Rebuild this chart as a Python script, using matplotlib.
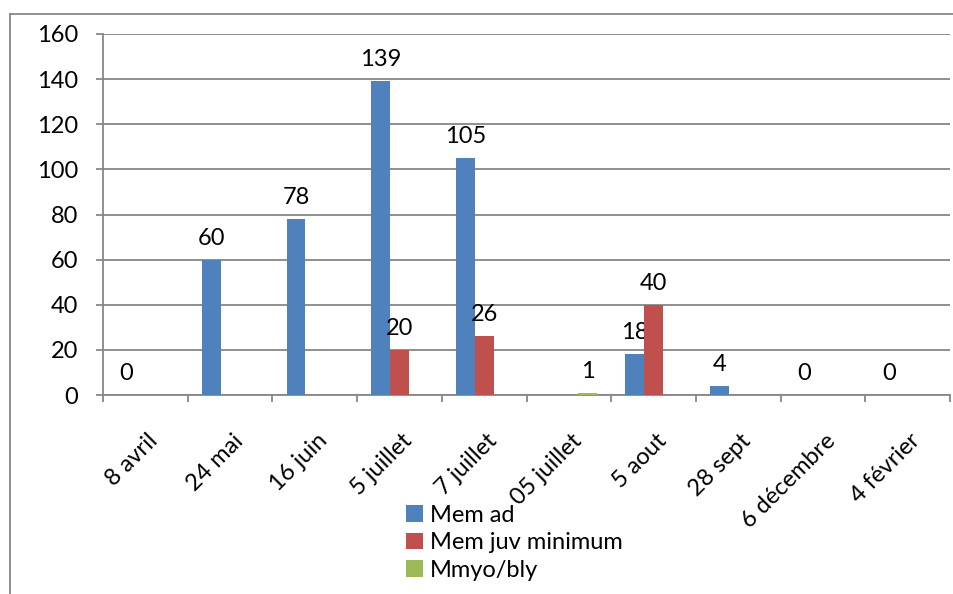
import numpy as np
import matplotlib
matplotlib.use("Agg")
from matplotlib import pyplot as plt
from matplotlib.lines import Line2D
from matplotlib.transforms import ScaledTranslation

plt.rcParams['font.family'] = ['Lato', 'DejaVu Sans']

# Data ====================================================================
dates = ["8 avril", "24 mai", "16 juin", "5 juillet", "7 juillet",
         "05 juillet", "5 aout", "28 sept", "6 décembre", "4 février"]
mem_ad  = [0, 60, 78, 139, 105, None, 18, 4, 0, 0]
mem_juv = [None, None, None, 20, 26, None, 40, None, None, None]
mmyo    = [None, None, None, None, None, 1, None, None, None, None]

series = [("Mem ad", mem_ad, "#4F81BD"),
          ("Mem juv minimum", mem_juv, "#C0504D"),
          ("Mmyo/bly", mmyo, "#9BBB59")]

# Figure ==================================================================
W, H = 954, 594
fig = plt.figure(figsize=(W/100, H/100), dpi=100)
ax = fig.add_axes([103/W, 1-395/H, (950-103)/W, (395-34)/H])

grey = "#878787"
fs = 17

x = np.arange(len(dates))
w = 0.222
for k, (name, vals, col) in enumerate(series):
    v = np.array([np.nan if a is None else a for a in vals], dtype=float)
    pos = x + (k-1)*w
    ax.bar(pos, v, width=w, color=col, label=name, zorder=3)
    for px, val in zip(pos, v):
        if not np.isnan(val):
            ax.annotate("%d" % val, (px, val), xytext=(0, 8), textcoords="offset points",
                        ha="center", va="bottom", fontsize=fs, color="black")

ax.set_xlim(-0.5, len(dates)-0.5)
ax.set_ylim(0, 160)
ax.set_yticks(np.arange(0, 161, 20))
ax.yaxis.grid(True, color=grey, lw=1.3, zorder=0)
ax.set_axisbelow(True)

ax.set_xticks(x)
ax.set_xticklabels(dates, rotation=45, ha="right", va="top", rotation_mode="anchor", fontsize=fs)
ax.set_xticks(np.arange(-0.5, len(dates)), minor=True)
ax.tick_params(axis="x", which="major", length=0, pad=0)
ax.tick_params(axis="x", which="minor", length=5, width=1.3, color=grey)
ax.tick_params(axis="y", length=5, width=1.3, color=grey, pad=13, labelsize=fs)

# push rotated date labels down below the axis, like the Excel layout
off = ScaledTranslation(0.02, -0.35, fig.dpi_scale_trans)
for lbl in ax.get_xticklabels():
    lbl.set_transform(lbl.get_transform() + off)

for s in ["top", "right"]:
    ax.spines[s].set_visible(False)
for s in ["left", "bottom"]:
    ax.spines[s].set_color(grey)
    ax.spines[s].set_linewidth(1.3)

fig.legend(loc="upper left", bbox_to_anchor=(406/W, 1-505/H), frameon=False,
           fontsize=fs, handlelength=0.7, handleheight=0.7, handletextpad=0.3,
           labelspacing=0.27, borderpad=0, borderaxespad=0)

# outer chart frame (cut off at right and bottom)
fig.add_artist(Line2D([10/W, 10/W], [0, 1-14/H], transform=fig.transFigure, color=grey, lw=1.3))
fig.add_artist(Line2D([10/W, 1], [1-14/H, 1-14/H], transform=fig.transFigure, color=grey, lw=1.3))

fig.savefig("out.png", dpi=100, facecolor="white")
